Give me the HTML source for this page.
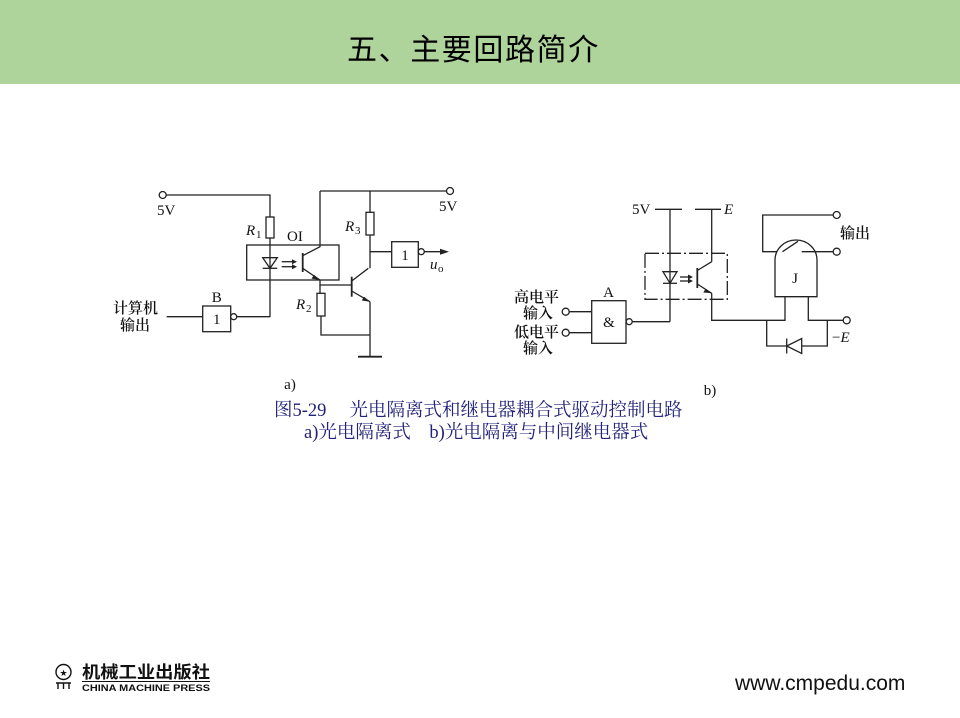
<!DOCTYPE html>
<html><head><meta charset="utf-8">
<style>
html,body{margin:0;padding:0;background:#fff;}
body{width:960px;height:718px;position:relative;overflow:hidden;}
.hdr{position:absolute;left:0;top:0;width:960px;height:84px;background:#aed49b;}
.title{position:absolute;left:347px;top:27px;font-family:"Noto Sans CJK SC","WenQuanYi Zen Hei",sans-serif;font-size:30px;line-height:40px;color:#000;font-weight:400;letter-spacing:1.6px;white-space:nowrap;}
.cap{position:absolute;font-family:"Liberation Serif","Noto Serif CJK SC",serif;font-size:18.5px;color:#22227a;white-space:nowrap;line-height:22px;}
.url{position:absolute;left:735px;top:672px;font-family:"Liberation Sans",sans-serif;font-size:21px;color:#111;white-space:nowrap;}
</style></head><body>
<div class="hdr"></div>
<div class="title">五、主要回路简介</div>

<svg width="960" height="718" style="position:absolute;left:0;top:0" xmlns="http://www.w3.org/2000/svg">
<g fill="none" stroke="#222" stroke-width="1.3">
<!-- ===== circuit a ===== -->
<polyline points="166,195 270,195 270,217"/>
<rect x="266" y="217" width="8" height="21"/>
<line x1="270" y1="238" x2="270" y2="317"/>
<rect x="246.7" y="245" width="92.3" height="35"/>
<polygon points="262.7,257.7 277.3,257.7 270,268.3"/>
<line x1="262.7" y1="268.3" x2="277.3" y2="268.3"/>
<line x1="281.7" y1="261.7" x2="292" y2="261.7"/>
<line x1="281.7" y1="266.7" x2="292" y2="266.7"/>
<line x1="302.7" y1="253" x2="302.7" y2="272" stroke-width="1.8"/>
<polyline points="302.7,255.7 320,246.7 320,191"/>
<line x1="302.7" y1="268.3" x2="320" y2="280"/>
<polyline points="320,280 320,285 351.7,285"/>
<line x1="320" y1="285" x2="320" y2="293.3"/>
<rect x="317" y="293.3" width="8" height="22.7"/>
<polyline points="321,316 321,335 370,335"/>
<line x1="320" y1="191" x2="446.5" y2="191"/>
<line x1="370" y1="191" x2="370" y2="212.3"/>
<rect x="366" y="212.3" width="8" height="22.7"/>
<line x1="370" y1="235" x2="370" y2="268.3"/>
<line x1="370" y1="251.7" x2="391.7" y2="251.7"/>
<rect x="391.7" y="241.7" width="26.6" height="25.6"/>
<circle cx="421.3" cy="251.7" r="3" fill="#fff"/>
<line x1="424.3" y1="251.7" x2="442" y2="251.7"/>
<line x1="351.7" y1="276.7" x2="351.7" y2="296.7" stroke-width="1.8"/>
<line x1="351.7" y1="281" x2="368.3" y2="268.3"/>
<line x1="351.7" y1="291" x2="370" y2="301.7"/>
<line x1="370" y1="301.7" x2="370" y2="356.7"/>
<line x1="358" y1="356.7" x2="382" y2="356.7" stroke-width="1.8"/>
<line x1="166.7" y1="316.7" x2="202.7" y2="316.7"/>
<rect x="202.7" y="306" width="28" height="25.7"/>
<circle cx="233.7" cy="316.7" r="3" fill="#fff"/>
<line x1="236.7" y1="316.7" x2="270" y2="316.7"/>

<!-- ===== circuit b ===== -->
<line x1="655" y1="209.3" x2="682" y2="209.3"/>
<line x1="695" y1="209.3" x2="721" y2="209.3"/>
<line x1="670" y1="209.3" x2="670" y2="321.7"/>
<line x1="711.7" y1="209.3" x2="711.7" y2="261.7"/>
<rect x="645" y="253.3" width="82.3" height="46" stroke-dasharray="14,3,2,3"/>
<polygon points="663,271.7 677,271.7 670,283.3"/>
<line x1="663" y1="283.3" x2="677" y2="283.3"/>
<line x1="680" y1="277" x2="688" y2="277"/>
<line x1="680" y1="281" x2="688" y2="281"/>
<line x1="697.3" y1="268" x2="697.3" y2="288" stroke-width="1.8"/>
<line x1="697.3" y1="270.5" x2="711.7" y2="261.7"/>
<line x1="697.3" y1="284" x2="711.7" y2="293.3"/>
<polyline points="711.7,293.3 711.7,320.3 785,320.3 785,296.7"/>
<line x1="569.2" y1="311.7" x2="591.7" y2="311.7"/>
<line x1="569.2" y1="332.7" x2="591.7" y2="332.7"/>
<rect x="591.7" y="300.7" width="34.3" height="42.6"/>
<circle cx="629.2" cy="321.7" r="3" fill="#fff"/>
<polyline points="632.2,321.7 670,321.7"/>
<path d="M775,296.7 L775,260 A21,20 0 0 1 817,260 L817,296.7 Z"/>
<polyline points="833.2,215 762.7,215 762.7,251.7 777,251.7"/>
<line x1="782.5" y1="251.7" x2="798" y2="241.3"/>
<line x1="801.7" y1="251.7" x2="833.2" y2="251.7"/>
<polyline points="808.3,296.7 808.3,320.3 843.2,320.3"/>
<polyline points="766.7,320.3 766.7,346 827.3,346 827.3,320.3"/>
<polygon points="786.7,346 801.7,338.5 801.7,353.5" fill="#fff"/>
<line x1="786.7" y1="338.5" x2="786.7" y2="353.5"/>
</g>
<g fill="#222" stroke="none">
<polygon points="292,259.2 297,261.7 292,264.2"/>
<polygon points="292,264.2 297,266.7 292,269.2"/>
<polygon points="688,274.5 693,277 688,279.5"/>
<polygon points="688,278.5 693,281 688,283.5"/>
<polygon points="320,280 311.5,278.6 314,274.8"/>
<polygon points="370,301.7 361.8,300.5 364,296.6"/>
<polygon points="711.7,293.3 703.3,292.5 705.6,288.7"/>
<polygon points="449,251.7 440,248.7 440,254.7"/>
</g>
<g fill="#fff" stroke="#222" stroke-width="1.3">
<circle cx="162.7" cy="195" r="3.5"/>
<circle cx="450" cy="191" r="3.5"/>
<circle cx="565.7" cy="311.7" r="3.5"/>
<circle cx="565.7" cy="332.7" r="3.5"/>
<circle cx="836.7" cy="215" r="3.5"/>
<circle cx="836.7" cy="251.7" r="3.5"/>
<circle cx="846.7" cy="320.3" r="3.5"/>
</g>
<g font-family="Liberation Serif, serif" font-size="15" fill="#111">
<text x="157" y="215">5V</text>
<text x="439" y="211">5V</text>
<text x="246" y="235" font-style="italic">R</text><text x="256" y="238" font-size="11">1</text>
<text x="287" y="241">OI</text>
<text x="345" y="231" font-style="italic">R</text><text x="355" y="234" font-size="11">3</text>
<text x="296" y="309" font-style="italic">R</text><text x="306" y="312" font-size="11">2</text>
<text x="405" y="260" text-anchor="middle">1</text>
<text x="430" y="269" font-style="italic">u</text><text x="438" y="272" font-size="11">o</text>
<text x="216.7" y="302" text-anchor="middle">B</text>
<text x="216.7" y="324" text-anchor="middle">1</text>
<text x="290" y="389" text-anchor="middle">a)</text>
<text x="632" y="214">5V</text>
<text x="724" y="214" font-style="italic">E</text>
<text x="608.5" y="297" text-anchor="middle">A</text>
<text x="609" y="327" text-anchor="middle">&amp;</text>
<text x="795" y="283" text-anchor="middle">J</text>
<text x="832" y="342">−<tspan font-style="italic">E</tspan></text>
<text x="710" y="395" text-anchor="middle">b)</text>
</g>
<g font-family="Noto Serif CJK SC, serif" font-size="15" fill="#111" font-weight="600">
<text x="113" y="313">计算机</text>
<text x="120" y="330">输出</text>
<text x="514" y="302">高电平</text>
<text x="523" y="318">输入</text>
<text x="514" y="337">低电平</text>
<text x="523" y="353">输入</text>
<text x="840" y="238">输出</text>
</g>
<g fill="none" stroke="#111" stroke-width="1.4">
<circle cx="63.5" cy="672" r="7.5"/>
<path d="M58,683 L58,689 M63.5,683 L63.5,689 M69,683 L69,689 M56,683 L71,683"/>
</g>
<text x="63.5" y="676" font-family="Liberation Sans,sans-serif" font-size="9" text-anchor="middle" fill="#111">★</text>
<text x="82" y="678" font-family="Noto Sans CJK SC, sans-serif" font-weight="bold" font-size="17" fill="#111" textLength="128" lengthAdjust="spacingAndGlyphs">机械工业出版社</text>
<line x1="82" y1="681.5" x2="210" y2="681.5" stroke="#111" stroke-width="1"/>
<text x="82" y="691" font-family="Liberation Sans, sans-serif" font-weight="bold" font-size="9.5" fill="#111" textLength="128" lengthAdjust="spacingAndGlyphs">CHINA MACHINE PRESS</text>
</svg>

<div class="cap" style="left:274px;top:400px;">图5-29　 光电隔离式和继电器耦合式驱动控制电路</div>
<div class="cap" style="left:304px;top:422px;">a)光电隔离式　b)光电隔离与中间继电器式</div>
<div class="url">www.cmpedu.com</div>
</body></html>
